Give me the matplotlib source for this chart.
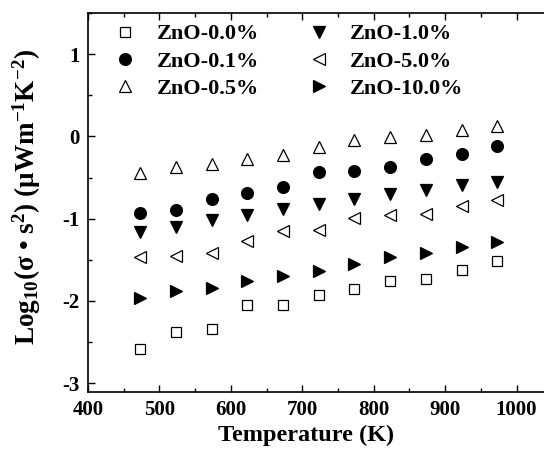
import numpy as np
import matplotlib
matplotlib.use("Agg")
import matplotlib.pyplot as plt
from matplotlib.ticker import MultipleLocator

plt.rcParams['font.family'] = 'Liberation Serif'
plt.rcParams['font.weight'] = 'bold'
plt.rcParams['axes.unicode_minus'] = False
plt.rcParams['mathtext.fontset'] = 'custom'
plt.rcParams['mathtext.rm'] = 'Liberation Serif:bold'
plt.rcParams['mathtext.it'] = 'Liberation Serif:bold'
plt.rcParams['mathtext.bf'] = 'Liberation Serif:bold'

temps = [473, 523, 573, 623, 673, 723, 773, 823, 873, 923, 973]

zno_00 = [-2.58, -2.38, -2.34, -2.05, -2.05, -1.93, -1.85, -1.76, -1.73, -1.62, -1.52]
zno_01 = [-0.93, -0.89, -0.76, -0.69, -0.61, -0.43, -0.42, -0.37, -0.28, -0.21, -0.12]
zno_05 = [-0.45, -0.37, -0.34, -0.28, -0.22, -0.13, -0.04, -0.01, 0.02, 0.08, 0.13]
zno_10 = [-1.16, -1.10, -1.02, -0.95, -0.88, -0.82, -0.76, -0.70, -0.65, -0.59, -0.55]
zno_50 = [-1.46, -1.45, -1.42, -1.27, -1.15, -1.14, -0.99, -0.96, -0.94, -0.84, -0.77]
zno_100 = [-1.96, -1.88, -1.84, -1.76, -1.70, -1.63, -1.55, -1.46, -1.42, -1.34, -1.28]

labels = ['ZnO-0.0%', 'ZnO-0.1%', 'ZnO-0.5%', 'ZnO-1.0%', 'ZnO-5.0%', 'ZnO-10.0%']
series = [zno_00, zno_01, zno_05, zno_10, zno_50, zno_100]
markers = ['s', 'o', '^', 'v', '<', '>']
fills = ['none', 'k', 'none', 'k', 'none', 'k']
sizes = [7.5, 8.5, 9, 9, 9, 9]

fig = plt.figure(figsize=(5.44, 4.53), dpi=100)
ax = fig.add_axes([88/544, 1 - 391.5/453, 500/544, (391.5 - 13)/453])

for y, m, f, ms, lab in zip(series, markers, fills, sizes, labels):
    ax.plot(temps, y, linestyle='none', marker=m, markersize=ms,
            markerfacecolor=f, markeredgecolor='k', markeredgewidth=0.9, label=lab)

ax.set_xlim(400, 1100)
ax.set_ylim(-3.1, 1.5)
ax.xaxis.set_major_locator(MultipleLocator(100))
ax.xaxis.set_minor_locator(MultipleLocator(50))
ax.yaxis.set_major_locator(MultipleLocator(1))
ax.yaxis.set_minor_locator(MultipleLocator(0.5))
ax.tick_params(which='both', direction='in', top=True, right=False, labelsize=15)
ax.tick_params(which='major', length=5, width=1, pad=6)
ax.tick_params(which='minor', length=3, width=1)
ax.set_xticks([400, 500, 600, 700, 800, 900, 1000])
for s in ax.spines.values():
    s.set_linewidth(1.2)

ax.set_xlabel('Temperature (K)', fontsize=17.5, fontweight='bold')
ax.xaxis.set_label_coords(0.436, -0.087)
ax.set_ylabel(r'Log$_{10}$(σ • s$^{2}$) (μWm$^{-1}$K$^{-2}$)', fontsize=19.5, fontweight='bold')
ax.yaxis.set_label_coords(-0.09, 0.514)

ax.legend(ncol=2, frameon=False, loc='upper left', bbox_to_anchor=(0.008, 1.024),
          fontsize=16, handletextpad=0.8, columnspacing=2.1, labelspacing=0.3,
          handlelength=1.2, markerscale=1.0)

fig.savefig('out.png', dpi=100)
